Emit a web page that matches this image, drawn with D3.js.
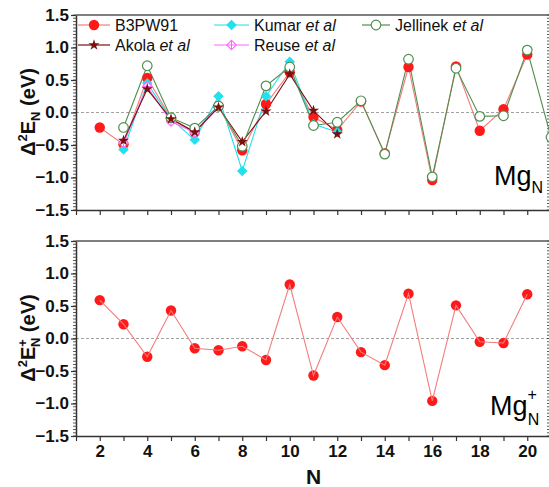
<!DOCTYPE html>
<html><head><meta charset="utf-8">
<script src="https://cdn.jsdelivr.net/npm/d3@7"></script>
<style>body{margin:0;background:#fff;} svg{display:block;font-family:"Liberation Sans",Arial,sans-serif;}</style>
</head><body><svg id="c" width="549" height="487"></svg>
<script>
// ---- data ----
const nAll = [2,3,4,5,6,7,8,9,10,11,12,13,14,15,16,17,18,19,20];
const b3pw91 = [-0.23,-0.49,0.53,-0.09,-0.30,0.10,-0.58,0.13,0.62,-0.07,-0.27,0.17,-0.63,0.70,-1.04,0.71,-0.28,0.05,0.89];
const nKumar = [3,4,5,6,7,8,9,10,11,12];
const kumar = [-0.57,0.45,-0.10,-0.42,0.25,-0.90,0.25,0.78,-0.18,-0.30];
const nJell = [3,4,5,6,7,8,9,10,11,12,13,14,15,16,17,18,19,20,21];
const jellinek = [-0.23,0.72,-0.08,-0.24,0.10,-0.52,0.41,0.70,-0.20,-0.15,0.18,-0.64,0.82,-0.99,0.68,-0.06,-0.05,0.96,-0.38];
const nAkola = [3,4,5,6,7,8,9,10,11,12];
const akola = [-0.43,0.36,-0.10,-0.30,0.08,-0.45,0.02,0.59,0.03,-0.33];
const nReuse = [3,4,5,6,7];
const reuse = [-0.47,0.40,-0.14,-0.31,0.09];
const cation = [0.59,0.22,-0.28,0.43,-0.15,-0.18,-0.12,-0.33,0.83,-0.57,0.33,-0.21,-0.41,0.69,-0.96,0.51,-0.05,-0.07,0.68];
const yTicks = [-1.5,-1.0,-0.5,0.0,0.5,1.0,1.5];
const xTicks = [2,4,6,8,10,12,14,16,18,20];

const svg = d3.select("#c");
const X0 = 76, X1 = 551;
const x = d3.scaleLinear().domain([1,21]).range([X0,X1]);
const panels = [{top:15,bot:210},{top:241,bot:436}];
const axisCol = "#333";

function drawFrame(p, showLabels){
  const y = d3.scaleLinear().domain([-1.5,1.5]).range([p.bot,p.top]);
  const g = svg.append("g");
  g.append("line").attr("x1",X0).attr("x2",X1).attr("y1",y(0)).attr("y2",y(0))
    .attr("stroke","#999").attr("stroke-width",0.9).attr("stroke-dasharray","3,2");
  const ya = d3.axisLeft(y).tickValues(yTicks).tickFormat(d3.format(".1f")).tickSize(5).tickSizeOuter(0);
  const ga = g.append("g").attr("transform",`translate(${X0},0)`).call(ya);
  ga.select(".domain").attr("stroke",axisCol).attr("stroke-width",1.5);
  ga.selectAll(".tick line").attr("stroke",axisCol).attr("stroke-width",1.2);
  ga.selectAll(".tick text").attr("font-size",17).attr("font-weight","bold").attr("fill","#111")
    .attr("font-family","Liberation Sans, Arial, sans-serif").attr("x",-7);
  const minor = d3.range(-1.5,1.5001,0.05);
  g.append("g").selectAll("line").data(minor).join("line")
    .attr("x1",X0-3).attr("x2",X0).attr("y1",d=>y(d)).attr("y2",d=>y(d))
    .attr("stroke",axisCol).attr("stroke-width",0.8);
  g.append("g").selectAll("line").data(minor).join("line")
    .attr("x1",X1-4).attr("x2",X1).attr("y1",d=>y(d)).attr("y2",d=>y(d))
    .attr("stroke",axisCol).attr("stroke-width",0.8);
  g.append("line").attr("x1",X0).attr("x2",X1).attr("y1",p.top).attr("y2",p.top)
    .attr("stroke","#555").attr("stroke-width",1.5);
  const xa = d3.axisBottom(x).tickValues(d3.range(1,22)).tickSize(5).tickSizeOuter(0)
    .tickFormat(d => (showLabels && xTicks.includes(d)) ? d : "");
  const gx = g.append("g").attr("transform",`translate(0,${p.bot})`).call(xa);
  gx.select(".domain").attr("stroke",axisCol).attr("stroke-width",1.5);
  gx.selectAll(".tick line").attr("stroke",axisCol).attr("stroke-width",1.2);
  gx.selectAll(".tick text").attr("font-size",17).attr("font-weight","bold").attr("fill","#111")
    .attr("font-family","Liberation Sans, Arial, sans-serif").attr("y",9);
  return y;
}

const yT = drawFrame(panels[0], false);
const yB = drawFrame(panels[1], true);

function series(y, xs, ys, color, w){
  const line = d3.line().x((d,i)=>x(xs[i])).y(d=>y(d));
  svg.append("path").datum(ys).attr("d",line).attr("fill","none").attr("stroke",color).attr("stroke-width",w);
}
const RED="#ff1a1a", REDL="#f47c7c", CYAN="#22e0ee", GREEN="#4f8f4f", DRED="#7a1010", PINK="#ff66ff";

series(yT, nAll, b3pw91, REDL, 1.1);
series(yT, nKumar, kumar, CYAN, 1.1);
series(yT, nReuse, reuse, PINK, 1.1);
series(yT, nAkola, akola, DRED, 1.1);
series(yT, nJell, jellinek, GREEN, 1.1);

function markRed(g, cx, cy){ g.append("circle").attr("cx",cx).attr("cy",cy).attr("r",5.2).attr("fill",RED); }
function markCyan(g, cx, cy){ g.append("path").attr("d",d3.symbol(d3.symbolSquare,55)()).attr("transform",`translate(${cx},${cy}) rotate(45)`).attr("fill",CYAN); }
function markGreen(g, cx, cy){ g.append("circle").attr("cx",cx).attr("cy",cy).attr("r",4.8).attr("fill","#fff").attr("stroke",GREEN).attr("stroke-width",1.2); }
function markStar(g, cx, cy){ g.append("path").attr("d",d3.symbol(d3.symbolStar,38)()).attr("transform",`translate(${cx},${cy})`).attr("fill",DRED); }
function markReuse(g, cx, cy){
  g.append("path").attr("d",d3.symbol(d3.symbolSquare,45)()).attr("transform",`translate(${cx},${cy}) rotate(45)`).attr("fill","#fff").attr("stroke",PINK).attr("stroke-width",1.1);
  g.append("path").attr("d",`M${cx-4},${cy}H${cx+4}M${cx},${cy-4}V${cy+4}`).attr("stroke",PINK).attr("stroke-width",1);
}
const gm = svg.append("g");
nAll.forEach((n,i)=>markRed(gm, x(n), yT(b3pw91[i])));
nKumar.forEach((n,i)=>markCyan(gm, x(n), yT(kumar[i])));
nReuse.forEach((n,i)=>markReuse(gm, x(n), yT(reuse[i])));
nJell.forEach((n,i)=>markGreen(gm, x(n), yT(jellinek[i])));
nAkola.forEach((n,i)=>markStar(gm, x(n), yT(akola[i])));

series(yB, nAll, cation, REDL, 1.1);
nAll.forEach((n,i)=>markRed(gm, x(n), yB(cation[i])));

// legend
const leg = svg.append("g").attr("font-size",16).attr("fill","#111");
const items = [
  {x1:78,x2:110,y:25,mk:markRed,col:REDL,name:"B3PW91",it:false},
  {x1:214,x2:249,y:25,mk:markCyan,col:CYAN,name:"Kumar ",it:true},
  {x1:362,x2:390,y:25,mk:markGreen,col:GREEN,name:"Jellinek ",it:true},
  {x1:78,x2:110,y:45,mk:markStar,col:DRED,name:"Akola ",it:true},
  {x1:214,x2:249,y:45,mk:markReuse,col:PINK,name:"Reuse ",it:true}
];
items.forEach(d=>{
  leg.append("line").attr("x1",d.x1).attr("x2",d.x2).attr("y1",d.y).attr("y2",d.y).attr("stroke",d.col).attr("stroke-width",1.2);
  d.mk(leg,(d.x1+d.x2)/2,d.y);
  const t = leg.append("text").attr("x",d.x2+5).attr("y",d.y+6);
  t.append("tspan").text(d.name);
  if(d.it) t.append("tspan").attr("font-style","italic").text("et al");
});

// y titles
svg.append("text").attr("transform","translate(35,112) rotate(-90)").attr("text-anchor","middle")
  .attr("font-size",20).attr("font-weight","bold").attr("fill","#111")
  .call(t=>{ t.append("tspan").text("Δ");
    t.append("tspan").attr("font-size",13).attr("dy",-8).text("2");
    t.append("tspan").attr("dy",8).text("E");
    t.append("tspan").attr("font-size",13).attr("dy",5).text("N");
    t.append("tspan").attr("dy",-5).text(" (eV)"); });
svg.append("text").attr("transform","translate(35,338) rotate(-90)").attr("text-anchor","middle")
  .attr("font-size",20).attr("font-weight","bold").attr("fill","#111")
  .call(t=>{ t.append("tspan").text("Δ");
    t.append("tspan").attr("font-size",13).attr("dy",-8).text("2");
    t.append("tspan").attr("dy",8).text("E");
    t.append("tspan").attr("font-size",13).attr("dy",-8).text("+");
    t.append("tspan").attr("font-size",13).attr("dx",-8).attr("dy",13).text("N");
    t.append("tspan").attr("dy",-5).text(" (eV)"); });

svg.append("text").attr("x",x(11)).attr("y",484).attr("text-anchor","middle")
  .attr("font-size",21).attr("font-weight","bold").attr("fill","#111").text("N");

// panel labels
svg.append("text").attr("x",494).attr("y",185).attr("font-size",27).attr("fill","#000")
  .call(t=>{ t.append("tspan").text("Mg"); t.append("tspan").attr("font-size",16).attr("dy",8).text("N"); });
svg.append("text").attr("x",490).attr("y",415).attr("font-size",27).attr("fill","#000")
  .call(t=>{ t.append("tspan").text("Mg");
    t.append("tspan").attr("font-size",16).attr("dy",-15).text("+");
    t.append("tspan").attr("font-size",16).attr("dx",-9).attr("dy",25).text("N"); });
</script></body></html>
